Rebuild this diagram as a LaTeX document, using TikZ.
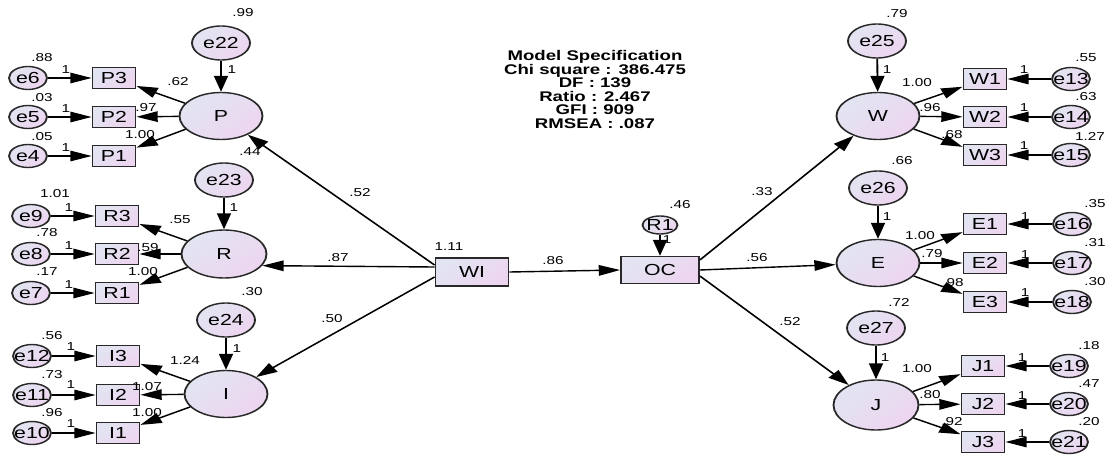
\documentclass[tikz,border=0pt]{standalone}
\usepackage{fontspec}
\setmainfont{Liberation Sans}
\usetikzlibrary{shapes.geometric,arrows.meta,calc}
\definecolor{fillA}{RGB}{226,229,241}
\definecolor{fillB}{RGB}{237,213,240}
\definecolor{edgec}{RGB}{40,40,40}
\newcommand\mk[1]{\makebox[0pt]{#1}}
\begin{document}
\begin{tikzpicture}
\useasboundingbox (0,0) rectangle (1112pt,-455pt);
\begin{scope}[transform canvas={xscale=1.33}, x=0.75188pt, y=-1pt,
  base/.style={draw=edgec, line width=1.4pt, top color=fillA, bottom color=fillB, shading angle=45, inner sep=0pt, font=\fontsize{16}{16}\selectfont},
  err/.style={base, ellipse, minimum width=28.6pt, minimum height=23pt},
  errb/.style={base, ellipse, minimum width=43.6pt, minimum height=34pt},
  lat/.style={base, ellipse, minimum width=62.4pt, minimum height=47pt},
  ind/.style={base, rectangle, minimum width=32.3pt, minimum height=21pt},
  lab/.style={font=\fontsize{11.5}{11.5}\selectfont, inner sep=0pt},
  arr/.style={draw=black, line width=1.4pt, -{Triangle[length=16pt,width=10.5pt]}}]

% ---------- left: P ----------
\node[errb] (e22) at (221,43) {\mk{e22}};
\node[lat] (P) at (221,116) {P};
\node[ind] (P3) at (114,78) {P3};
\node[ind] (P2) at (114,117) {P2};
\node[ind] (P1) at (114,156) {P1};
\node[err] (e6) at (28,78) {\mk{e6}};
\node[err] (e5) at (28,117) {\mk{e5}};
\node[err] (e4) at (28,156) {\mk{e4}};
% ---------- left: R ----------
\node[errb] (e23) at (224,180) {\mk{e23}};
\node[lat, minimum width=63.9pt, minimum height=48pt] (R) at (224,254) {R};
\node[ind] (R3) at (117,216) {R3};
\node[ind] (R2) at (117,254) {R2};
\node[ind] (R1) at (117,293) {R1};
\node[err] (e9) at (31,216) {\mk{e9}};
\node[err] (e8) at (31,254) {\mk{e8}};
\node[err] (e7) at (31,293) {\mk{e7}};
% ---------- left: I ----------
\node[errb] (e24) at (226,320) {\mk{e24}};
\node[lat] (I) at (226,394) {I};
\node[ind] (I3) at (118,356) {I3};
\node[ind] (I2) at (118,395) {I2};
\node[ind] (I1) at (118,433) {I1};
\node[err] (e12) at (32,356) {\mk{e12}};
\node[err] (e11) at (32,395) {\mk{e11}};
\node[err] (e10) at (32,433) {\mk{e10}};
% ---------- centre ----------
\node[base, rectangle, minimum width=54.9pt, minimum height=28pt] (WI) at (472,272) {WI};
\node[base, rectangle, minimum width=58.6pt, minimum height=27pt] (OC) at (660,270) {OC};
\node[base, ellipse, minimum width=26.3pt, minimum height=18pt] (res1) at (660,225) {\mk{R1}};
\node[font=\fontsize{14}{13.5}\selectfont\bfseries, align=center, inner sep=0pt] (spec) at (595,89.5)
  {Model Specification\\Chi square : 386.475\\DF : 139\\Ratio : 2.467\\GFI : 909\\RMSEA : .087};
% ---------- right: W ----------
\node[errb] (e25) at (877,41) {\mk{e25}};
\node[lat] (W) at (878,116) {W};
\node[ind] (W1) at (985,79) {W1};
\node[ind] (W2) at (985,117) {W2};
\node[ind] (W3) at (985,155) {W3};
\node[err] (e13) at (1071,79) {\mk{e13}};
\node[err] (e14) at (1071,117) {\mk{e14}};
\node[err] (e15) at (1071,155) {\mk{e15}};
% ---------- right: E ----------
\node[errb] (e26) at (878,188) {\mk{e26}};
\node[lat] (E) at (878,263) {E};
\node[ind] (E1) at (985,224) {E1};
\node[ind] (E2) at (985,263) {E2};
\node[ind] (E3) at (985,302) {E3};
\node[err] (e16) at (1072,224) {\mk{e16}};
\node[err] (e17) at (1072,263) {\mk{e17}};
\node[err] (e18) at (1072,302) {\mk{e18}};
% ---------- right: J ----------
\node[errb] (e27) at (876,328) {\mk{e27}};
\node[lat, minimum width=63.9pt, minimum height=50pt] (J) at (876,405) {J};
\node[ind] (J1) at (983,366) {J1};
\node[ind] (J2) at (983,404) {J2};
\node[ind] (J3) at (983,442) {J3};
\node[err] (e19) at (1069,366) {\mk{e19}};
\node[err] (e20) at (1069,404) {\mk{e20}};
\node[err] (e21) at (1069,442) {\mk{e21}};

% ---------- connectors ----------
\foreach \a/\b in {e6/P3,e5/P2,e4/P1,P/P3,P/P2,P/P1,e22/P,
                   e9/R3,e8/R2,e7/R1,R/R3,R/R2,R/R1,e23/R,
                   e12/I3,e11/I2,e10/I1,I/I3,I/I2,I/I1,e24/I,
                   e13/W1,e14/W2,e15/W3,W/W1,W/W2,W/W3,e25/W,
                   e16/E1,e17/E2,e18/E3,E/E1,E/E2,E/E3,e26/E,
                   e19/J1,e20/J2,e21/J3,J/J1,J/J2,J/J3,e27/J,
                   res1/OC}
  \draw[arr] (\a) -- (\b);
\coordinate (wP) at ($(WI.west)+(0,-7)$);
\coordinate (wR) at ($(WI.west)+(0,-5)$);
\coordinate (wI) at ($(WI.west)+(0,5)$);
\coordinate (oW) at ($(OC.east)+(0,-10)$);
\coordinate (oE) at (OC.east);
\coordinate (oJ) at ($(OC.east)+(0,6)$);
\draw[arr] (wP) -- (P);
\draw[arr] (wR) -- (R.-22);
\draw[arr] (wI) -- (I);
\draw[arr] (WI.east) -- (OC.west);
\draw[arr] (oW) -- (W);
\draw[arr] (oE) -- (E);
\draw[arr] (oJ) -- (J);

% ---------- labels ----------
\foreach \n/\x/\y/\t in {
  1/243/13/.99, 2/42/58/.88, 3/42/98/.03, 4/42/137/.05,
  5/66/70/1, 6/66/109/1, 7/66/148/1,
  8/178/82/.62, 9/146/108/.97, 10/140/135/1.00, 11/232/70/1, 12/250/152/.44,
  13/55/194/1.01, 14/47/233/.78, 15/47/272/.17,
  16/69/208/1, 17/69/246/1, 18/69/285/1,
  19/180/220/.55, 20/148/248/.59, 21/143/272/1.00, 22/234/208/1, 23/252/292/.30,
  24/52/336/.56, 25/52/375/.73, 26/52/413/.96,
  27/71/347/1, 28/71/385/1, 29/71/424/1,
  30/185/360/1.24, 31/147/387/1.07, 32/147/413/1.00, 33/237/349/1,
  34/360/193/.52, 35/338/258/.87, 36/332/319/.50, 37/449/247/1.11,
  38/553/261/.86, 39/680/205/.46, 40/667/240/1,
  41/762/192/.33, 42/757/258/.56, 43/790/322/.52,
  44/897/14/.79, 45/887/70/1, 46/917/83/1.00, 47/930/108/.96, 48/952/135/.68,
  49/1086/58/.55, 50/1086/97/.63, 51/1090/136/1.27,
  52/1024/70/1, 53/1024/108/1, 54/1024/146/1,
  55/902/161/.66, 56/887/217/1, 57/920/236/1.00, 58/932/254/.79, 59/953/283/.98,
  60/1095/204/.35, 61/1095/243/.31, 62/1095/282/.30,
  63/1025/217/1, 64/1025/255/1, 65/1025/293/1,
  66/899/302/.72, 67/885/358/1, 68/917/369/1.00, 69/930/395/.80, 70/952/422/.92,
  71/1089/346/.18, 72/1089/384/.47, 73/1089/422/.20,
  74/1022/358/1, 75/1022/396/1, 76/1022/434/1}
  \node[lab] (L\n) at (\x,\y) {\t};
\end{scope}
\end{tikzpicture}
\end{document}
